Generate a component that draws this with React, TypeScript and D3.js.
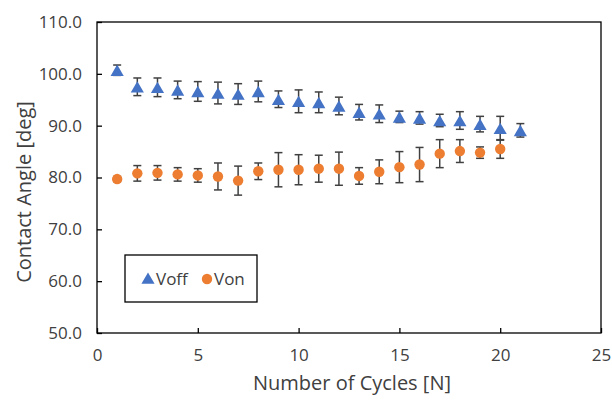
import React, { useEffect, useRef } from "react";
import * as d3 from "d3";

// cycle numbers
const cyclesOff = [1, 2, 3, 4, 5, 6, 7, 8, 9, 10, 11, 12, 13, 14, 15, 16, 17, 18, 19, 20, 21];
const cyclesOn = [1, 2, 3, 4, 5, 6, 7, 8, 9, 10, 11, 12, 13, 14, 15, 16, 17, 18, 19, 20];

// contact angle means and std errors
const voffMean = [100.7, 97.5, 97.4, 96.9, 96.6, 96.3, 96.1, 96.6, 95.1, 94.7, 94.5, 93.8, 92.6, 92.3, 91.7, 91.5, 91.0, 91.0, 90.3, 89.5, 89.1];
const voffErr = [1.0, 1.7, 1.8, 1.7, 1.9, 2.1, 2.0, 2.0, 1.6, 2.2, 2.0, 1.7, 1.5, 1.7, 1.1, 1.2, 1.2, 1.7, 1.5, 2.3, 1.3];
const vonMean = [79.7, 80.8, 80.9, 80.6, 80.4, 80.2, 79.4, 81.2, 81.5, 81.5, 81.7, 81.7, 80.3, 81.1, 82.0, 82.5, 84.6, 85.1, 84.8, 85.5];
const vonErr = [0.5, 1.5, 1.4, 1.3, 1.3, 2.6, 2.8, 1.6, 3.3, 2.9, 2.6, 3.2, 1.6, 2.3, 3.0, 3.3, 2.7, 2.2, 1.1, 1.8];

const xTicks = [0, 5, 10, 15, 20, 25];
const yTicks = [50, 60, 70, 80, 90, 100, 110];

const BLUE = "#4472C4";
const ORANGE = "#ED7D31";
const FONT = "'Open Sans', sans-serif";

export default function App() {
  const svgRef = useRef<SVGSVGElement>(null);

  useEffect(() => {
    const svg = d3.select(svgRef.current);
    svg.selectAll("*").remove();

    const left = 97, right = 601, top = 22, bottom = 333;
    const x = d3.scaleLinear().domain([0, 25]).range([left, right]);
    const y = d3.scaleLinear().domain([50, 110]).range([bottom, top]);

    // plot frame
    svg.append("rect")
      .attr("x", left).attr("y", top)
      .attr("width", right - left).attr("height", bottom - top)
      .attr("fill", "none").attr("stroke", "#000").attr("stroke-width", 1.3);

    // axes with inward ticks
    const yAxis = svg.append("g")
      .attr("transform", `translate(${left},0)`)
      .call(d3.axisLeft(y).tickValues(yTicks).tickSizeInner(-5).tickSizeOuter(0).tickPadding(15).tickFormat(d3.format(".1f")));
    const xAxis = svg.append("g")
      .attr("transform", `translate(0,${bottom})`)
      .call(d3.axisBottom(x).tickValues(xTicks).tickSizeInner(-5).tickSizeOuter(0).tickPadding(16).tickFormat(d3.format("d")));
    [yAxis, xAxis].forEach((g) => {
      g.select(".domain").remove();
      g.selectAll("line").attr("stroke", "#000").attr("stroke-width", 1.3);
      g.selectAll("text").attr("font-family", FONT).attr("font-size", 17).attr("fill", "#404040");
    });

    // axis titles
    svg.append("text")
      .attr("x", 352).attr("y", 390)
      .attr("text-anchor", "middle")
      .attr("font-family", FONT).attr("font-size", 20).attr("fill", "#404040")
      .text("Number of Cycles [N]");
    svg.append("text")
      .attr("transform", `translate(31,192) rotate(-90)`)
      .attr("text-anchor", "middle")
      .attr("font-family", FONT).attr("font-size", 20).attr("fill", "#404040")
      .text("Contact Angle [deg]");

    const cap = 4;
    const drawErr = (xs: number[], ms: number[], es: number[]) => {
      const g = svg.append("g").attr("stroke", "#404040").attr("stroke-width", 1.5);
      xs.forEach((c, i) => {
        const px = x(c), y1 = y(ms[i] + es[i]), y2 = y(ms[i] - es[i]);
        g.append("line").attr("x1", px).attr("x2", px).attr("y1", y1).attr("y2", y2);
        g.append("line").attr("x1", px - cap).attr("x2", px + cap).attr("y1", y1).attr("y2", y1);
        g.append("line").attr("x1", px - cap).attr("x2", px + cap).attr("y1", y2).attr("y2", y2);
      });
    };
    drawErr(cyclesOff, voffMean, voffErr);
    drawErr(cyclesOn, vonMean, vonErr);

    // d3 triangle is centred on its centroid; shift so its box is centred on the point
    const tri = d3.symbol().type(d3.symbolTriangle).size(75);
    svg.append("g").selectAll("path")
      .data(cyclesOff)
      .enter().append("path")
      .attr("d", tri())
      .attr("transform", (d, i) => `translate(${x(d)},${y(voffMean[i]) + 2})`)
      .attr("fill", BLUE);

    svg.append("g").selectAll("circle")
      .data(cyclesOn)
      .enter().append("circle")
      .attr("cx", (d) => x(d))
      .attr("cy", (d, i) => y(vonMean[i]))
      .attr("r", 5.2)
      .attr("fill", ORANGE);

    // legend
    const lg = svg.append("g");
    lg.append("rect")
      .attr("x", 125).attr("y", 255).attr("width", 132).attr("height", 47)
      .attr("fill", "#fff").attr("stroke", "#000").attr("stroke-width", 1.3);
    lg.append("path").attr("d", tri()).attr("transform", "translate(148,280)").attr("fill", BLUE);
    lg.append("text").attr("x", 156).attr("y", 285)
      .attr("font-family", FONT).attr("font-size", 17).attr("fill", "#404040").text("Voff");
    lg.append("circle").attr("cx", 207).attr("cy", 279).attr("r", 5.2).attr("fill", ORANGE);
    lg.append("text").attr("x", 214).attr("y", 285)
      .attr("font-family", FONT).attr("font-size", 17).attr("fill", "#404040").text("Von");
  }, []);

  return (
    <svg
      ref={svgRef}
      width={612}
      height={400}
      style={{ position: "absolute", left: 0, top: 0, background: "#fff" }}
    />
  );
}
